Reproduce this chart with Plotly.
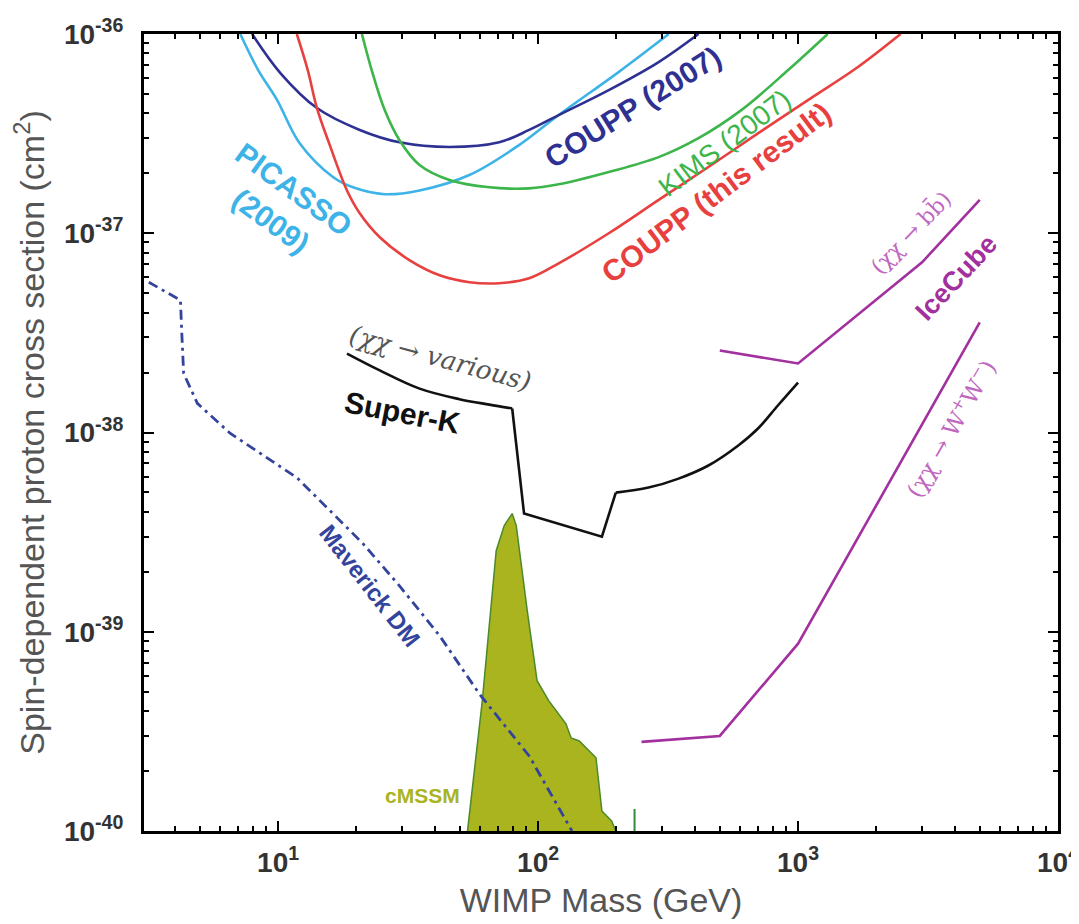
import plotly.graph_objects as go

# ---------------- data (WIMP mass in GeV, cross section in cm^2) ----------------
picasso_m = [7.15, 8.38, 9.91, 12.1, 16.3, 19.4, 25.7, 35.0, 54.4, 84.5, 120, 204, 318]
picasso_s = [1.00e-36, 6.59e-37, 4.66e-37, 2.83e-37, 1.91e-37, 1.70e-37, 1.57e-37,
             1.64e-37, 1.96e-37, 2.77e-37, 3.92e-37, 6.44e-37, 1.00e-36]

coupp07_m = [7.94, 10.2, 14.1, 20.6, 29.3, 45.6, 70.9, 92.4, 120, 187, 291, 414]
coupp07_s = [1.00e-36, 6.37e-37, 4.25e-37, 3.30e-37, 2.86e-37, 2.71e-37, 2.86e-37,
             3.30e-37, 3.92e-37, 5.23e-37, 7.23e-37, 1.00e-36]

coupp_m = [11.8, 13.0, 14.1, 15.8, 18.4, 20.6, 24.6, 32.1, 41.8, 54.4, 70.9, 92.4,
           120, 187, 291, 452, 703, 1092, 1700, 2480]
coupp_s = [1.00e-36, 6.59e-37, 4.25e-37, 2.77e-37, 1.64e-37, 1.26e-37, 9.55e-38,
           7.31e-38, 6.15e-38, 5.68e-38, 5.61e-38, 5.94e-38, 7.06e-38, 1.00e-37,
           1.47e-37, 2.15e-37, 3.18e-37, 4.66e-37, 6.83e-37, 1.00e-36]

kims_m = [21.0, 22.9, 25.7, 29.3, 35.0, 45.6, 64.9, 92.4, 120, 187, 291, 414, 605, 916, 1300]
kims_s = [1.00e-36, 6.59e-37, 4.15e-37, 2.93e-37, 2.20e-37, 1.85e-37, 1.70e-37,
          1.68e-37, 1.76e-37, 2.03e-37, 2.41e-37, 3.00e-37, 4.15e-37, 6.59e-37, 1.00e-36]

superk_m = [18.4, 24.6, 35.0, 49.8, 64.9, 79.5, 88.3, 176, 199, 266, 347, 452, 589,
            703, 838, 1000]
superk_s = [2.49e-38, 2.05e-38, 1.66e-38, 1.47e-38, 1.38e-38, 1.32e-38, 3.92e-39,
            3.00e-39, 4.99e-39, 5.29e-39, 5.87e-39, 6.83e-39, 8.61e-39, 1.05e-38,
            1.37e-38, 1.78e-38]

icecube_bb_m = [500, 1000, 3000, 5000]
icecube_bb_s = [2.58e-38, 2.22e-38, 7.15e-38, 1.47e-37]

icecube_ww_m = [250, 500, 1000, 5000]
icecube_ww_s = [2.80e-40, 3.00e-40, 8.71e-40, 3.57e-38]

maverick_m = [3.18, 4.21, 4.25, 4.33, 4.89, 6.55, 11.8, 21.2, 29.3, 41.8, 59.4, 92.4, 135]
maverick_s = [5.68e-38, 4.61e-38, 3.37e-38, 1.98e-38, 1.40e-38, 9.89e-39, 5.94e-39,
              2.77e-39, 1.70e-39, 9.55e-40, 4.88e-40, 2.38e-40, 1.00e-40]

cmssm_m = [53.5, 61.0, 69.0, 74.1, 79.5, 82.4, 90.8, 99.1, 110, 128, 134, 144, 167,
           176, 192, 199]
cmssm_s = [1.00e-40, 4.50e-40, 2.55e-39, 3.41e-39, 3.92e-39, 3.41e-39, 1.28e-39,
           5.68e-40, 4.50e-40, 3.45e-40, 2.93e-40, 2.83e-40, 2.33e-40, 1.26e-40,
           1.12e-40, 1.00e-40]

spike_m = [235, 235]
spike_s = [1.00e-40, 1.29e-40]

x_tick_vals = [10, 100, 1000, 10000]
x_tick_text = ["10<sup>1</sup>", "10<sup>2</sup>", "10<sup>3</sup>", "10<sup>4</sup>"]
y_tick_vals = [1e-36, 1e-37, 1e-38, 1e-39, 1e-40]
y_tick_text = ["10<sup>-36</sup>", "10<sup>-37</sup>", "10<sup>-38</sup>",
               "10<sup>-39</sup>", "10<sup>-40</sup>"]

# ---------------- figure ----------------
BODY = 8                       # default page margin around the plot div
W, H = 1079 - BODY, 924 - BODY
ML, MR, MT, MB = 144 - BODY, 21, 34 - BODY, 93
PW, PH = W - ML - MR, H - MT - MB
SANS = "Liberation Sans, Arial, sans-serif"
SERIF = "DejaVu Serif, serif"


def P(px, py):
    """page pixel position -> paper coordinates"""
    return (px - BODY - ML) / PW, (MT + PH - (py - BODY)) / PH


fig = go.Figure()

fig.add_trace(go.Scatter(x=cmssm_m, y=cmssm_s, mode="lines", fill="toself",
                         fillcolor="#a9b41f", line=dict(color="#4a8a2a", width=1.5),
                         hoverinfo="skip"))
fig.add_trace(go.Scatter(x=spike_m, y=spike_s, mode="lines",
                         line=dict(color="#2f8a3a", width=2)))

fig.add_trace(go.Scatter(x=maverick_m, y=maverick_s, mode="lines",
                         line=dict(color="#34449c", width=2.8,
                                   dash="10px,5px,3px,5px")))

curve_specs = [
    (picasso_m, picasso_s, "#3db3e8", "spline"),
    (coupp07_m, coupp07_s, "#2e3192", "spline"),
    (kims_m, kims_s, "#3cb54a", "spline"),
    (coupp_m, coupp_s, "#e8403f", "spline"),
    (icecube_bb_m, icecube_bb_s, "#a2309e", "linear"),
    (icecube_ww_m, icecube_ww_s, "#a2309e", "linear"),
]
for xm, ys, col, shp in curve_specs:
    fig.add_trace(go.Scatter(x=xm, y=ys, mode="lines",
                             line=dict(color=col, width=2.6, shape=shp, smoothing=1.0)))

# Super-K: smooth pieces joined by sharp steps
for a, b, shp in [(0, 6, "spline"), (5, 9, "linear"), (8, len(superk_m), "spline")]:
    fig.add_trace(go.Scatter(x=superk_m[a:b], y=superk_s[a:b], mode="lines",
                             line=dict(color="#111111", width=2.6, shape=shp, smoothing=1.0)))


# ---------------- labels ----------------
def label(text, px, py, color, size, angle=0, weight="bold", family=SANS, style="normal"):
    xp, yp = P(px, py)
    fig.add_annotation(x=xp, y=yp, xref="paper", yref="paper", text=text, showarrow=False,
                       textangle=angle,
                       font=dict(color=color, size=size, family=family, weight=weight,
                                 style=style),
                       xanchor="center", yanchor="middle")


label("PICASSO<br>(2009)", 282, 205, "#3db3e8", 30, angle=36)
label("COUPP (2007)", 632, 107, "#2e3192", 30, angle=-32)
label("KIMS (2007)", 724, 143, "#3cb54a", 28, angle=-37, weight="normal")
label("COUPP (this result)", 716, 192, "#e8403f", 30, angle=-37)
label("(χχ → various)", 440, 358, "#555555", 26, angle=15, weight="normal",
      family=SERIF, style="italic")
label("Super-K", 402, 412, "#111111", 30, angle=11)
label("(χχ → bb̄)", 910, 232, "#c067c0", 22, angle=-46, weight="normal", family=SERIF)
label("IceCube", 956, 278, "#a2309e", 27, angle=-47)
label("(χχ → W<sup>+</sup>W<sup>−</sup>)", 950, 428, "#c067c0", 23, angle=-60,
      weight="normal", family=SERIF)
label("Maverick DM", 370, 585, "#34449c", 24, angle=52)
label("cMSSM", 422, 795, "#a9b41f", 21)

# ---------------- axes ----------------
minor_x = [m * 10 ** e for e in range(0, 4) for m in range(2, 10) if m * 10 ** e >= 3]
minor_y = [m * 10.0 ** e for e in range(-40, -36) for m in range(2, 10)]

axis_common = dict(showline=True, linecolor="black", linewidth=3, mirror="allticks",
                   ticks="inside", ticklen=10, tickwidth=2, tickcolor="black",
                   showgrid=False, zeroline=False, automargin=False,
                   ticklabeloverflow="allow",
                   tickfont=dict(family=SANS, size=28, color="#333333", weight="bold"),
                   title_font=dict(family=SANS, size=34, color="#555555"))

fig.update_xaxes(type="log", range=[0.484, 4.0], tickmode="array",
                 tickvals=x_tick_vals, ticktext=x_tick_text, ticklabelstandoff=4,
                 minor=dict(tickvals=minor_x, ticks="inside", ticklen=5, tickwidth=2,
                            tickcolor="black", showgrid=False),
                 title_text="WIMP Mass (GeV)", title_standoff=12, **axis_common)
fig.update_yaxes(type="log", range=[-40, -36], tickmode="array",
                 tickvals=y_tick_vals, ticktext=y_tick_text, ticklabelstandoff=12,
                 minor=dict(tickvals=minor_y, ticks="inside", ticklen=5, tickwidth=2,
                            tickcolor="black", showgrid=False),
                 title_text="Spin-dependent proton cross section (cm<sup>2</sup>)",
                 title_standoff=18, **axis_common)

fig.update_layout(width=W, height=H, showlegend=False,
                  margin=dict(l=ML, r=MR, t=MT, b=MB, pad=0),
                  plot_bgcolor="white", paper_bgcolor="white")

fig.write_html("out.html")
